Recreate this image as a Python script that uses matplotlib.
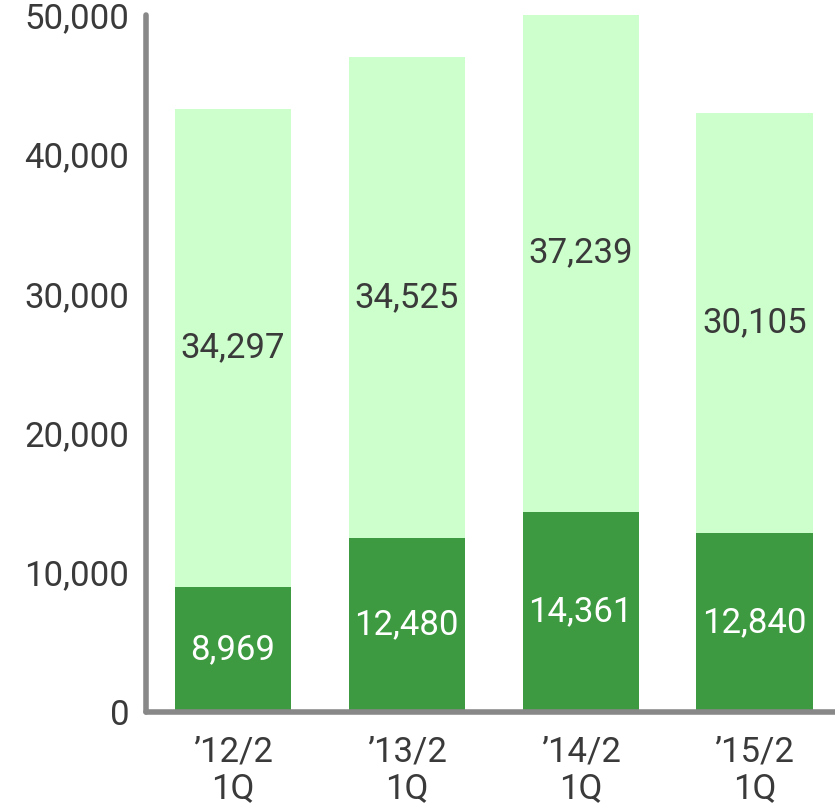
import matplotlib
matplotlib.use("Agg")
import matplotlib.pyplot as plt
import numpy as np

plt.rcParams['font.family'] = ['Roboto', 'DejaVu Sans']

categories = ["\u201912/2\n1Q", "\u201913/2\n1Q", "\u201914/2\n1Q", "\u201915/2\n1Q"]
bottom_vals = [8969, 12480, 14361, 12840]
top_vals = [34297, 34525, 37239, 30105]
yticks = [0, 10000, 20000, 30000, 40000, 50000]

dark = "#3E9A41"
light = "#CCFFCC"
txt = "#3A3A3A"
spine_c = "#888888"
fs = 25

fig = plt.figure(figsize=(8.35, 8.05), dpi=100)
ax = fig.add_axes([146/835, 93/805, 1 - 146/835, 697/805])

x = np.arange(len(categories))
w = 0.668
ax.bar(x, bottom_vals, width=w, color=dark, zorder=2)
ax.bar(x, top_vals, width=w, bottom=bottom_vals, color=light, zorder=2)

for xi, b, t in zip(x, bottom_vals, top_vals):
    ax.text(xi, b / 2, f"{b:,}", ha="center", va="center", color="white", fontsize=fs, zorder=3)
    ax.text(xi, b + t / 2, f"{t:,}", ha="center", va="center", color=txt, fontsize=fs, zorder=3)

ax.set_xlim(-0.5, 3.463)
ax.set_ylim(0, 50000)
ax.set_yticks(yticks)
ax.set_yticklabels([f"{v:,}" for v in yticks])
ax.set_xticks(x)
ax.set_xticklabels(categories, linespacing=1.15)
ax.tick_params(axis="y", length=0, pad=12, labelsize=fs, labelcolor=txt)
ax.tick_params(axis="x", length=0, pad=17, labelsize=fs, labelcolor=txt)

for s in ["top", "right"]:
    ax.spines[s].set_visible(False)
for s in ["left", "bottom"]:
    ax.spines[s].set_color(spine_c)
    ax.spines[s].set_linewidth(4)
    ax.spines[s].set_capstyle("round")
    ax.spines[s].set_zorder(4)

fig.savefig("out.png", dpi=100)
